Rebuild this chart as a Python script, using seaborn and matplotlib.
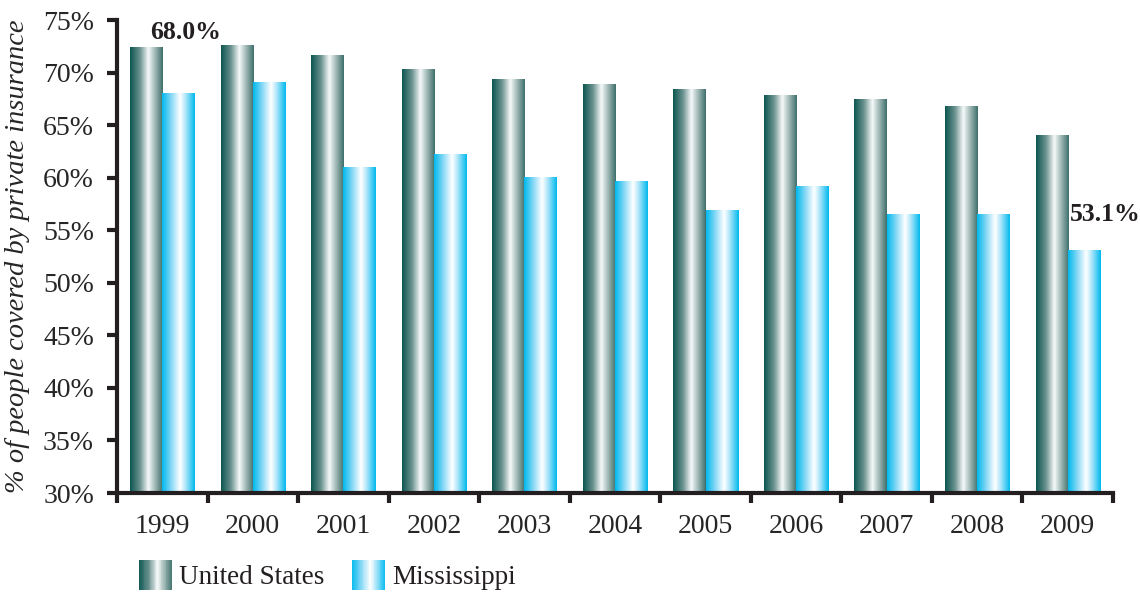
import numpy as np
import pandas as pd
import matplotlib
matplotlib.use("Agg")
import matplotlib.pyplot as plt
import seaborn as sns
from matplotlib.colors import LinearSegmentedColormap
from matplotlib.legend_handler import HandlerBase
from matplotlib.patches import Rectangle, Patch
from matplotlib.ticker import FixedLocator

# Данные
years = ["1999", "2000", "2001", "2002", "2003", "2004",
         "2005", "2006", "2007", "2008", "2009"]
us_values = [72.4, 72.6, 71.6, 70.3, 69.3, 68.9, 68.4, 67.8, 67.4, 66.8, 64.0]
ms_values = [68.0, 69.1, 61.0, 62.2, 60.0, 59.6, 56.9, 59.2, 56.5, 56.5, 53.1]
series_names = ["United States", "Mississippi"]
ylabel = "% of people covered by private insurance"

# Градиенты "цилиндра"
us_cmap = LinearSegmentedColormap.from_list("us", [
    (0.0, "#0b5651"), (0.3, "#6a918e"), (0.56, "#f7fafa"),
    (0.64, "#d3dfde"), (1.0, "#3d6f6a")])
ms_cmap = LinearSegmentedColormap.from_list("ms", [
    (0.0, "#00b9ee"), (0.28, "#86d8f6"), (0.55, "#ffffff"),
    (0.7, "#b9e9fa"), (1.0, "#00b9ee")])
cmaps = [us_cmap, ms_cmap]

df = pd.DataFrame({
    "year": years * 2,
    "value": us_values + ms_values,
    "series": [series_names[0]] * len(years) + [series_names[1]] * len(years),
})

sns.set_style("white")
plt.rcParams["font.family"] = ["Liberation Serif", "DejaVu Serif"]
plt.rcParams["text.color"] = "#231f20"

fig = plt.figure(figsize=(11.4, 5.94), dpi=100)
ax = fig.add_axes([0.1026, 0.170, 0.8737, 0.7963])

sns.barplot(data=df, x="year", y="value", hue="series", hue_order=series_names,
            order=years, width=0.71, ax=ax, legend=False, saturation=1)

grad = np.linspace(0, 1, 256).reshape(1, -1)
for cont, cmap in zip(ax.containers, cmaps):
    for bar in cont:
        x, y = bar.get_x(), bar.get_y()
        w, h = bar.get_width(), bar.get_height()
        bar.set_facecolor("none")
        bar.set_edgecolor("none")
        ax.imshow(grad, extent=[x, x + w, y, y + h], aspect="auto",
                  cmap=cmap, zorder=2, interpolation="bilinear")

ax.set_xlim(-0.5, len(years) - 0.5)
ax.set_ylim(30, 75)
ax.set_yticks(np.arange(30, 76, 5))
ax.set_yticklabels([f"{v}%" for v in range(30, 76, 5)])

# подписи лет по центрам, засечки на границах групп
ax.xaxis.set_minor_locator(FixedLocator(np.arange(-0.5, len(years), 1.0)))
ax.tick_params(axis="x", which="major", length=0, pad=15, labelsize=20)
ax.tick_params(axis="x", which="minor", length=7, width=3, color="#231f20",
               direction="out", bottom=True)
ax.tick_params(axis="y", length=7.5, width=3, color="#231f20", direction="out",
               left=True, pad=9, labelsize=20)

for side in ["top", "right"]:
    ax.spines[side].set_visible(False)
for side in ["left", "bottom"]:
    ax.spines[side].set_linewidth(3)
    ax.spines[side].set_color("#231f20")

ax.set_xlabel("")
ax.set_ylabel(ylabel, fontsize=20.5, style="italic", labelpad=10)
ax.yaxis.set_label_coords(-0.087, 0.5)

# подписи первого и последнего значения Миссисипи
ax.text(0.26, 73.8, f"{ms_values[0]:.1f}%", ha="center", va="center",
        fontsize=18.5, fontweight="bold")
ax.text(len(years) - 1 + 0.42, 56.45, f"{ms_values[-1]:.1f}%", ha="center",
        va="center", fontsize=18.5, fontweight="bold")


class HandlerGradient(HandlerBase):
    def __init__(self, cmap, n=40):
        super().__init__()
        self.cmap = cmap
        self.n = n

    def create_artists(self, legend, orig_handle, xdescent, ydescent,
                       width, height, fontsize, trans):
        arts = []
        step = width / self.n
        for i in range(self.n):
            c = self.cmap((i + 0.5) / self.n)
            r = Rectangle((-xdescent + i * step, -ydescent), step * 1.05, height,
                          facecolor=c, edgecolor="none", transform=trans)
            arts.append(r)
        return arts


handles = [Patch(label=series_names[0]), Patch(label=series_names[1])]
fig.legend(handles=handles, labels=series_names, ncol=2, frameon=False,
           loc="lower left", bbox_to_anchor=(0.112, -0.012),
           handler_map={handles[0]: HandlerGradient(us_cmap),
                        handles[1]: HandlerGradient(ms_cmap)},
           fontsize=19.5, handlelength=1.25, handleheight=1.3,
           handletextpad=0.25, columnspacing=1.0, borderaxespad=0)

fig.savefig("out.png", dpi=100)
